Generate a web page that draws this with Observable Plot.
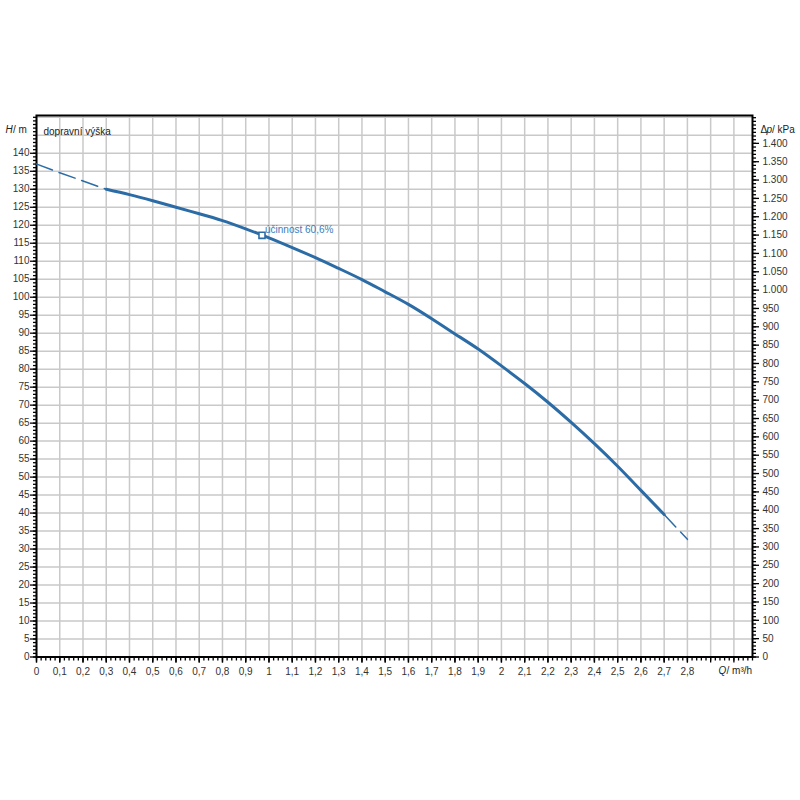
<!DOCTYPE html>
<html>
<head>
<meta charset="utf-8">
<script src="https://cdn.jsdelivr.net/npm/d3@7"></script>
<script src="https://cdn.jsdelivr.net/npm/@observablehq/plot@0.6"></script>
<style>
  body { margin: 0; background: #fff; }
  #chart svg { display: block; }
</style>
</head>
<body>
<div id="chart"></div>
<script>
// ---- data ----
const flow = [0, 0.1, 0.2, 0.3, 0.4, 0.5, 0.6, 0.7, 0.8, 0.9, 1.0, 1.1, 1.2, 1.3, 1.4,
              1.5, 1.6, 1.7, 1.8, 1.9, 2.0, 2.1, 2.2, 2.3, 2.4, 2.5, 2.6, 2.7, 2.8];
const head = [137.0, 134.6, 132.3, 130.0, 128.5, 126.8, 125.0, 123.2, 121.3, 119.0, 116.5, 113.8, 111.0, 108.0, 104.9,
              101.5, 98.0, 94.0, 89.8, 85.6, 80.9, 76.0, 70.8, 65.2, 59.3, 53.0, 46.3, 39.6, 32.7];
const solidFrom = 0.3, solidTo = 2.7;

const dutyQ = [0.97];
const dutyH = [117.2];
const dutyLabel = ["účinnost 60,6%"];

const xTickValues = [0, 0.1, 0.2, 0.3, 0.4, 0.5, 0.6, 0.7, 0.8, 0.9, 1, 1.1, 1.2, 1.3, 1.4,
                     1.5, 1.6, 1.7, 1.8, 1.9, 2, 2.1, 2.2, 2.3, 2.4, 2.5, 2.6, 2.7, 2.8];
const yTickValues = [0, 5, 10, 15, 20, 25, 30, 35, 40, 45, 50, 55, 60, 65, 70, 75, 80, 85, 90,
                     95, 100, 105, 110, 115, 120, 125, 130, 135, 140];
const kPaTickValues = [0, 50, 100, 150, 200, 250, 300, 350, 400, 450, 500, 550, 600, 650, 700,
                       750, 800, 850, 900, 950, 1000, 1050, 1100, 1150, 1200, 1250, 1300, 1350, 1400];
const kPaPerMetre = 9.807;

// ---- derived tables ----
const curve = flow.map((q, i) => ({Q: q, H: head[i]}));
const solidPart = curve.filter(d => d.Q >= solidFrom - 1e-9 && d.Q <= solidTo + 1e-9);
const dashStart = curve.filter(d => d.Q <= solidFrom + 1e-9);
const dashEnd = curve.filter(d => d.Q >= solidTo - 1e-9);
const duty = dutyQ.map((q, i) => ({Q: q, H: dutyH[i], label: dutyLabel[i]}));

const xDomain = [0, 3.08];
const yDomain = [0, 150.5];
const xGrid = d3.range(0, 31).map(i => i / 10);
const xMinor = d3.range(0, 155).map(i => i / 50);
const yGrid = d3.range(0, 151, 5);
const yMinor = d3.range(0, 151, 1);
const kPaMinor = d3.range(0, 1471, 10);

const csLocale = d3.formatLocale({decimal: ",", thousands: ".", grouping: [3], currency: ["", ""]});
const fmtX = d => csLocale.format(".1~f")(d);
const fmtK = d => csLocale.format(",d")(Math.round(d));

const blue = "#2c6ca6";
const labelBlue = "#3b7dbd";
const grid = "#c9c9c9";
const ink = "#333";

const chart = Plot.plot({
  width: 800,
  height: 800,
  marginLeft: 36,
  marginRight: 48,
  marginTop: 115,
  marginBottom: 143.5,
  style: {fontFamily: "'Liberation Sans', Arial, sans-serif", fontSize: "10px", color: ink, background: "#fff"},
  x: {domain: xDomain},
  y: {domain: yDomain},
  marks: [
    Plot.gridX(xGrid, {stroke: grid, strokeOpacity: 1, strokeWidth: 1.5}),
    Plot.gridY(yGrid, {stroke: grid, strokeOpacity: 1, strokeWidth: 1.5}),
    // left axis
    Plot.axisY(yMinor, {anchor: "left", tickSize: 3, tickFormat: () => "", stroke: "#000", strokeWidth: 1.3, label: null}),
    Plot.axisY(yTickValues, {anchor: "left", tickSize: 6, tickPadding: 1, tickFormat: d => String(d), stroke: "#000", strokeWidth: 1.3, fill: ink, label: null}),
    // right axis (kPa)
    Plot.axisY(kPaMinor.map(k => k / kPaPerMetre), {anchor: "right", tickSize: 3, tickFormat: () => "", stroke: "#000", strokeWidth: 1.3, label: null}),
    Plot.axisY(kPaTickValues.map(k => k / kPaPerMetre), {anchor: "right", tickSize: 6, tickPadding: 4, tickFormat: m => fmtK(m * kPaPerMetre), stroke: "#000", strokeWidth: 1.3, fill: ink, label: null}),
    // bottom axis
    Plot.axisX(xMinor, {anchor: "bottom", tickSize: 4, tickFormat: () => "", stroke: "#000", strokeWidth: 1.3, label: null}),
    Plot.axisX(xGrid, {anchor: "bottom", tickSize: 6, tickFormat: () => "", stroke: "#000", strokeWidth: 1.3, label: null}),
    Plot.axisX(xTickValues, {anchor: "bottom", tickSize: 6, tickPadding: 5, tickFormat: fmtX, stroke: "#000", strokeWidth: 1.3, fill: ink, label: null}),
    Plot.frame({stroke: "#000", strokeWidth: 2}),
    // curve
    Plot.line(dashStart, {x: "Q", y: "H", stroke: blue, strokeWidth: 1.5, strokeDasharray: "17,7", curve: "natural"}),
    Plot.line(dashEnd, {x: "Q", y: "H", stroke: blue, strokeWidth: 1.5, strokeDasharray: "17,7", curve: "natural"}),
    Plot.line(solidPart, {x: "Q", y: "H", stroke: blue, strokeWidth: 3, curve: "natural"}),
    // duty point
    Plot.dot(duty, {x: "Q", y: "H", symbol: "square", r: 3.4, stroke: blue, strokeWidth: 1.6, fill: "#fff"}),
    Plot.text(duty, {x: "Q", y: "H", text: "label", dx: 3, dy: -6, textAnchor: "start", fill: labelBlue, fontSize: 10}),
    // titles
    Plot.text(["dopravní výška"], {frameAnchor: "top-left", dx: 7, dy: 12, textAnchor: "start", fill: "#222", fontSize: 10}),
    Plot.text(["H"], {frameAnchor: "top-left", dx: -31, dy: 10, textAnchor: "start", fill: "#222", fontStyle: "italic", fontSize: 10}),
    Plot.text(["/ m"], {frameAnchor: "top-left", dx: -23.5, dy: 10, textAnchor: "start", fill: "#222", fontSize: 10}),
    Plot.text(["Δ"], {frameAnchor: "top-right", dx: 8, dy: 10, textAnchor: "start", fill: "#222", fontSize: 10}),
    Plot.text(["p"], {frameAnchor: "top-right", dx: 14, dy: 10, textAnchor: "start", fill: "#222", fontStyle: "italic", fontSize: 10}),
    Plot.text(["/ kPa"], {frameAnchor: "top-right", dx: 19.5, dy: 10, textAnchor: "start", fill: "#222", fontSize: 10}),
    Plot.text(["Q"], {frameAnchor: "bottom-right", dx: -34, dy: 16.5, textAnchor: "start", fill: "#222", fontStyle: "italic", fontSize: 10}),
    Plot.text(["/ m³/h"], {frameAnchor: "bottom-right", dx: -26, dy: 16.5, textAnchor: "start", fill: "#222", fontSize: 10})
  ]
});
document.getElementById("chart").append(chart);
</script>
</body>
</html>
